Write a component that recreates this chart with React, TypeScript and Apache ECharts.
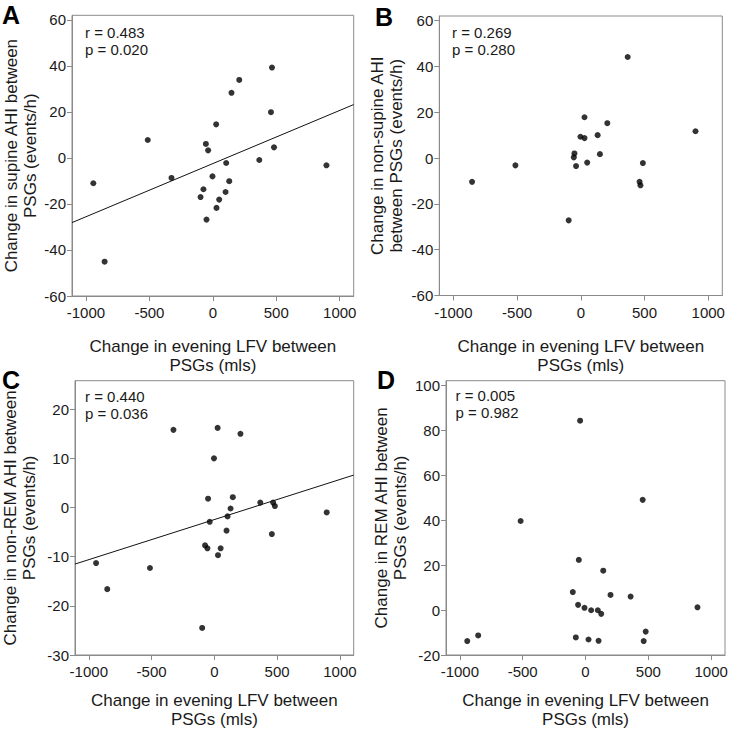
import React, { useEffect, useRef } from "react";
import * as echarts from "echarts";

// Panel A: supine AHI
const lfvA = [-942, -853, -513, -326, -97, -74, -55, -37, -50, -3, 26, 29, 50, 105, 100, 129, 147, 208, 366, 458, 466, 482, 895];
const supineChange = [-11.0, -45.1, 7.8, -8.7, -17.0, -13.6, 6.1, 3.3, -26.8, -8.0, 14.6, -21.7, -18.1, -2.2, -14.8, -10.1, 28.3, 33.9, -0.9, 19.9, 39.3, 4.6, -3.2];
const fitAx = [-1110, 1110];
const fitAy = [-28.1, 23.2];

// Panel B: non-supine AHI
const lfvB = [-853, -513, -95, -55, -50, -37, -3, 29, 29, 50, 132, 150, 208, 368, 461, 468, 487, 900];
const nonSupineChange = [-10.4, -3.2, -27.2, 0.3, 2.0, -3.5, 9.3, 8.7, 17.8, -2.0, 10.0, 1.7, 15.2, 44.1, -10.4, -11.9, -2.2, 11.7];

// Panel C: non-REM AHI
const lfvC = [-942, -853, -513, -326, -97, -74, -55, -50, -37, -3, 26, 29, 50, 97, 105, 129, 147, 208, 366, 458, 468, 482, 895];
const nonRemChange = [-11.3, -16.6, -12.3, 15.8, -24.5, -7.7, -8.3, 1.8, -2.9, 10.0, 16.2, -9.7, -8.3, -4.7, -1.8, -0.2, 2.1, 15.0, 1.0, -5.4, 1.0, 0.3, -1.0];
const fitCx = [-1110, 1110];
const fitCy = [-11.5, 6.6];

// Panel D: REM AHI
const lfvD = [-941, -854, -516, -101, -77, -59, -53, -43, -8, 24, 45, 98, 104, 125, 141, 199, 359, 455, 463, 479, 891];
const remChange = [-13.8, -11.3, 39.6, 8.0, -12.2, 2.3, 22.3, 84.2, 1.0, -13.1, -0.1, -0.1, -13.7, -1.7, 17.5, 6.7, 6.0, 49.0, -13.8, -9.6, 1.2];

const xTicks = [-1000, -500, 0, 500, 1000];
const yTicksAB = [-60, -40, -20, 0, 20, 40, 60];
const yTicksC = [-30, -20, -10, 0, 10, 20];
const yTicksD = [-20, 0, 20, 40, 60, 80, 100];

const xName = "Change in evening LFV between\nPSGs (mls)";
const yNames = [
  "Change in supine AHI between\nPSGs (events/h)",
  "Change in non-supine AHI\nbetween PSGs (events/h)",
  "Change in non-REM AHI between\nPSGs (events/h)",
  "Change in REM AHI between\nPSGs (events/h)",
];
const rTexts = ["r = 0.483", "r = 0.269", "r = 0.440", "r = 0.005"];
const pTexts = ["p = 0.020", "p = 0.280", "p = 0.036", "p = 0.982"];
const letters = ["A", "B", "C", "D"];

const FONT = "'Liberation Sans', Arial, sans-serif";
const AXIS = "#8a8a8a";
const TXT = "#1a1a1a";

const pairs = (xs: number[], ys: number[]) => xs.map((x, i) => [x, ys[i]]);

export default function App() {
  const ref = useRef<HTMLDivElement>(null);
  useEffect(() => {
    const chart = echarts.init(ref.current!, null, { renderer: "svg" });

    const grids = [
      { left: 72, top: 15.3, width: 281.7, height: 280.7 },
      { left: 439.3, top: 16, width: 283, height: 279.5 },
      { left: 72, top: 380.7, width: 281.7, height: 280.5 },
      { left: 446, top: 380.7, width: 279, height: 281 },
    ];
    const yRanges = [
      { min: -60, max: 62, ticks: yTicksAB },
      { min: -60, max: 62, ticks: yTicksAB },
      { min: -30, max: 25.8, ticks: yTicksC },
      { min: -20, max: 102, ticks: yTicksD },
    ];
    const xNameGaps = [41, 41, 36, 36];
    const yNameGaps = [31, 33, 36, 36];
    const statPos = [
      { l: 85, t: 25 },
      { l: 452, t: 25 },
      { l: 85, t: 389 },
      { l: 455.5, t: 387.5 },
    ];
    const letterPos = [
      { l: 2, t: 2 },
      { l: 375, t: 4 },
      { l: 2, t: 367 },
      { l: 377, t: 367 },
    ];

    const fmt = (v: number) => String(v);

    const option: any = {
      animation: false,
      backgroundColor: "#fff",
      grid: grids.map((g) => ({
        ...g,
        show: true,
        borderColor: AXIS,
        borderWidth: 1,
        backgroundColor: "transparent",
        containLabel: false,
      })),
      xAxis: grids.map((_, i) => ({
        type: "value",
        gridIndex: i,
        min: -1110,
        max: 1110,
        axisLine: { show: true, onZero: false, lineStyle: { color: AXIS, width: 1 } },
        axisTick: { show: true, length: 5, customValues: xTicks, lineStyle: { color: AXIS } },
        axisLabel: { customValues: xTicks, formatter: fmt, margin: 9, fontSize: 15, color: TXT, fontFamily: FONT },
        splitLine: { show: false },
        name: xName,
        nameLocation: "middle",
        nameGap: xNameGaps[i],
        nameTextStyle: { fontSize: 17, lineHeight: 19, color: TXT, fontFamily: FONT, verticalAlign: "top" },
      })),
      yAxis: grids.map((_, i) => ({
        type: "value",
        gridIndex: i,
        min: yRanges[i].min,
        max: yRanges[i].max,
        axisLine: { show: true, onZero: false, lineStyle: { color: AXIS, width: 1 } },
        axisTick: { show: true, length: 5, customValues: yRanges[i].ticks, lineStyle: { color: AXIS } },
        axisLabel: { customValues: yRanges[i].ticks, formatter: fmt, margin: 6, fontSize: 15, color: TXT, fontFamily: FONT },
        splitLine: { show: false },
        name: yNames[i],
        nameLocation: "middle",
        nameGap: yNameGaps[i],
        nameTextStyle: { fontSize: 17, lineHeight: 19, color: TXT, fontFamily: FONT },
      })),
      series: [
        { type: "scatter", xAxisIndex: 0, yAxisIndex: 0, data: pairs(lfvA, supineChange), symbolSize: 6, itemStyle: { color: "#000" } },
        { type: "line", xAxisIndex: 0, yAxisIndex: 0, data: pairs(fitAx, fitAy), symbol: "none", lineStyle: { color: "#111", width: 1 } },
        { type: "scatter", xAxisIndex: 1, yAxisIndex: 1, data: pairs(lfvB, nonSupineChange), symbolSize: 6, itemStyle: { color: "#000" } },
        { type: "scatter", xAxisIndex: 2, yAxisIndex: 2, data: pairs(lfvC, nonRemChange), symbolSize: 6, itemStyle: { color: "#000" } },
        { type: "line", xAxisIndex: 2, yAxisIndex: 2, data: pairs(fitCx, fitCy), symbol: "none", lineStyle: { color: "#111", width: 1 } },
        { type: "scatter", xAxisIndex: 3, yAxisIndex: 3, data: pairs(lfvD, remChange), symbolSize: 6, itemStyle: { color: "#000" } },
      ],
      graphic: [
        ...letterPos.map((p, i) => ({
          type: "text",
          left: p.l,
          top: p.t,
          style: { text: letters[i], fontSize: 25, fontWeight: "bold", fontFamily: FONT, fill: "#000" },
        })),
        ...statPos.map((p, i) => ({
          type: "text",
          left: p.l,
          top: p.t,
          style: { text: rTexts[i], fontSize: 15, lineHeight: 15, fontFamily: FONT, fill: TXT },
        })),
        ...statPos.map((p, i) => ({
          type: "text",
          left: p.l,
          top: p.t + 17,
          style: { text: pTexts[i], fontSize: 15, lineHeight: 15, fontFamily: FONT, fill: TXT },
        })),
      ],
    };
    chart.setOption(option);
    return () => chart.dispose();
  }, []);
  return (
    <div
      ref={ref}
      style={{ position: "fixed", left: 0, top: 0, width: 733, height: 730, background: "#fff" }}
    />
  );
}
